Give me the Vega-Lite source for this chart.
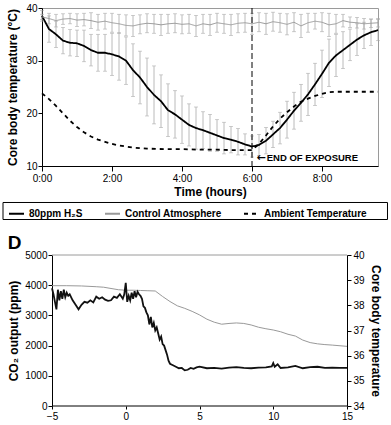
{
  "$schema": "https://vega.github.io/schema/vega-lite/v6.json",
  "padding": {"left": 2, "top": 2, "right": 3, "bottom": 2},
  "spacing": 13,
  "config": {
    "font": "Liberation Sans",
    "view": {"stroke": "#9a9a9a", "strokeWidth": 1},
    "axis": {"grid": false, "domainColor": "#000", "tickColor": "#000", "labelColor": "#000", "titleColor": "#000", "labelFontSize": 10, "titleFontSize": 12, "titleFontWeight": "bold", "labelFont": "Liberation Sans", "titleFont": "Liberation Sans", "domainWidth": 1, "tickWidth": 1}
  },
  "datasets": {
    "top": [
      {"s":"80ppm H₂S","t":0,"v":38.5,"lo":37.5,"hi":39.5},
      {"s":"80ppm H₂S","t":0.2,"v":36.0,"lo":33.5,"hi":38.5},
      {"s":"80ppm H₂S","t":0.4,"v":35.0,"lo":32.5,"hi":37.5},
      {"s":"80ppm H₂S","t":0.6,"v":33.8,"lo":31.3,"hi":36.3},
      {"s":"80ppm H₂S","t":0.8,"v":33.4,"lo":30.9,"hi":35.9},
      {"s":"80ppm H₂S","t":1.0,"v":33.3,"lo":30.8,"hi":35.8},
      {"s":"80ppm H₂S","t":1.2,"v":32.8,"lo":29.8,"hi":35.8},
      {"s":"80ppm H₂S","t":1.4,"v":32.0,"lo":29.0,"hi":35.0},
      {"s":"80ppm H₂S","t":1.6,"v":31.5,"lo":28.0,"hi":35.0},
      {"s":"80ppm H₂S","t":1.8,"v":31.5,"lo":28.0,"hi":35.0},
      {"s":"80ppm H₂S","t":2.0,"v":31.2,"lo":27.2,"hi":35.2},
      {"s":"80ppm H₂S","t":2.2,"v":30.8,"lo":26.3,"hi":35.3},
      {"s":"80ppm H₂S","t":2.4,"v":30.0,"lo":25.5,"hi":34.5},
      {"s":"80ppm H₂S","t":2.6,"v":28.2,"lo":23.2,"hi":33.2},
      {"s":"80ppm H₂S","t":2.8,"v":26.8,"lo":21.8,"hi":31.8},
      {"s":"80ppm H₂S","t":3.0,"v":25.0,"lo":19.5,"hi":30.5},
      {"s":"80ppm H₂S","t":3.2,"v":23.5,"lo":18.0,"hi":29.0},
      {"s":"80ppm H₂S","t":3.4,"v":22.3,"lo":17.3,"hi":27.3},
      {"s":"80ppm H₂S","t":3.6,"v":20.6,"lo":15.6,"hi":25.6},
      {"s":"80ppm H₂S","t":3.8,"v":19.8,"lo":15.3,"hi":24.3},
      {"s":"80ppm H₂S","t":4.0,"v":18.8,"lo":14.3,"hi":23.3},
      {"s":"80ppm H₂S","t":4.2,"v":17.8,"lo":13.8,"hi":21.8},
      {"s":"80ppm H₂S","t":4.4,"v":17.2,"lo":13.2,"hi":21.2},
      {"s":"80ppm H₂S","t":4.6,"v":16.8,"lo":13.3,"hi":20.3},
      {"s":"80ppm H₂S","t":4.8,"v":16.3,"lo":12.8,"hi":19.8},
      {"s":"80ppm H₂S","t":5.0,"v":15.8,"lo":12.8,"hi":18.8},
      {"s":"80ppm H₂S","t":5.2,"v":15.3,"lo":12.3,"hi":18.3},
      {"s":"80ppm H₂S","t":5.4,"v":15.0,"lo":12.5,"hi":17.5},
      {"s":"80ppm H₂S","t":5.6,"v":14.6,"lo":12.1,"hi":17.1},
      {"s":"80ppm H₂S","t":5.8,"v":14.1,"lo":12.1,"hi":16.1},
      {"s":"80ppm H₂S","t":6.0,"v":13.7,"lo":11.7,"hi":15.7},
      {"s":"80ppm H₂S","t":6.2,"v":14.0,"lo":12.0,"hi":16.0},
      {"s":"80ppm H₂S","t":6.4,"v":14.8,"lo":12.3,"hi":17.3},
      {"s":"80ppm H₂S","t":6.6,"v":16.0,"lo":13.5,"hi":18.5},
      {"s":"80ppm H₂S","t":6.8,"v":17.2,"lo":14.2,"hi":20.2},
      {"s":"80ppm H₂S","t":7.0,"v":18.8,"lo":15.3,"hi":22.3},
      {"s":"80ppm H₂S","t":7.2,"v":20.5,"lo":17.0,"hi":24.0},
      {"s":"80ppm H₂S","t":7.4,"v":22.0,"lo":18.5,"hi":25.5},
      {"s":"80ppm H₂S","t":7.6,"v":23.6,"lo":19.6,"hi":27.6},
      {"s":"80ppm H₂S","t":7.8,"v":25.5,"lo":21.5,"hi":29.5},
      {"s":"80ppm H₂S","t":8.0,"v":27.5,"lo":23.0,"hi":32.0},
      {"s":"80ppm H₂S","t":8.2,"v":29.6,"lo":25.1,"hi":34.1},
      {"s":"80ppm H₂S","t":8.4,"v":31.0,"lo":27.0,"hi":35.0},
      {"s":"80ppm H₂S","t":8.6,"v":32.0,"lo":28.5,"hi":35.5},
      {"s":"80ppm H₂S","t":8.8,"v":33.0,"lo":30.0,"hi":36.0},
      {"s":"80ppm H₂S","t":9.0,"v":34.0,"lo":31.0,"hi":37.0},
      {"s":"80ppm H₂S","t":9.2,"v":34.8,"lo":32.3,"hi":37.3},
      {"s":"80ppm H₂S","t":9.4,"v":35.4,"lo":32.9,"hi":37.9},
      {"s":"80ppm H₂S","t":9.6,"v":35.8,"lo":33.8,"hi":37.8},
      {"s":"Control Atmosphere","t":0,"v":38.3,"lo":37.8,"hi":38.8},
      {"s":"Control Atmosphere","t":0.2,"v":38.0,"lo":37.0,"hi":39.0},
      {"s":"Control Atmosphere","t":0.4,"v":37.6,"lo":36.4,"hi":38.8},
      {"s":"Control Atmosphere","t":0.6,"v":37.9,"lo":36.9,"hi":38.9},
      {"s":"Control Atmosphere","t":0.8,"v":38.0,"lo":37.0,"hi":39.0},
      {"s":"Control Atmosphere","t":1.0,"v":37.7,"lo":36.5,"hi":38.9},
      {"s":"Control Atmosphere","t":1.2,"v":37.8,"lo":36.6,"hi":39.0},
      {"s":"Control Atmosphere","t":1.4,"v":37.6,"lo":36.1,"hi":39.1},
      {"s":"Control Atmosphere","t":1.6,"v":37.3,"lo":35.8,"hi":38.8},
      {"s":"Control Atmosphere","t":1.8,"v":37.5,"lo":36.0,"hi":39.0},
      {"s":"Control Atmosphere","t":2.0,"v":37.2,"lo":35.4,"hi":39.0},
      {"s":"Control Atmosphere","t":2.2,"v":37.0,"lo":35.2,"hi":38.8},
      {"s":"Control Atmosphere","t":2.4,"v":36.7,"lo":34.7,"hi":38.7},
      {"s":"Control Atmosphere","t":2.6,"v":36.6,"lo":34.6,"hi":38.6},
      {"s":"Control Atmosphere","t":2.8,"v":36.9,"lo":35.1,"hi":38.7},
      {"s":"Control Atmosphere","t":3.0,"v":37.1,"lo":35.3,"hi":38.9},
      {"s":"Control Atmosphere","t":3.2,"v":37.0,"lo":35.2,"hi":38.8},
      {"s":"Control Atmosphere","t":3.4,"v":36.8,"lo":34.8,"hi":38.8},
      {"s":"Control Atmosphere","t":3.6,"v":37.0,"lo":35.2,"hi":38.8},
      {"s":"Control Atmosphere","t":3.8,"v":37.1,"lo":35.3,"hi":38.9},
      {"s":"Control Atmosphere","t":4.0,"v":36.9,"lo":35.1,"hi":38.7},
      {"s":"Control Atmosphere","t":4.2,"v":37.0,"lo":35.2,"hi":38.8},
      {"s":"Control Atmosphere","t":4.4,"v":36.6,"lo":34.6,"hi":38.6},
      {"s":"Control Atmosphere","t":4.6,"v":37.0,"lo":35.2,"hi":38.8},
      {"s":"Control Atmosphere","t":4.8,"v":36.8,"lo":34.8,"hi":38.8},
      {"s":"Control Atmosphere","t":5.0,"v":37.2,"lo":35.4,"hi":39.0},
      {"s":"Control Atmosphere","t":5.2,"v":37.0,"lo":35.2,"hi":38.8},
      {"s":"Control Atmosphere","t":5.4,"v":36.8,"lo":34.8,"hi":38.8},
      {"s":"Control Atmosphere","t":5.6,"v":37.1,"lo":35.3,"hi":38.9},
      {"s":"Control Atmosphere","t":5.8,"v":37.2,"lo":35.4,"hi":39.0},
      {"s":"Control Atmosphere","t":6.0,"v":37.0,"lo":35.0,"hi":39.0},
      {"s":"Control Atmosphere","t":6.2,"v":37.3,"lo":35.5,"hi":39.1},
      {"s":"Control Atmosphere","t":6.4,"v":37.0,"lo":35.0,"hi":39.0},
      {"s":"Control Atmosphere","t":6.6,"v":37.4,"lo":35.6,"hi":39.2},
      {"s":"Control Atmosphere","t":6.8,"v":37.2,"lo":35.4,"hi":39.0},
      {"s":"Control Atmosphere","t":7.0,"v":36.9,"lo":34.9,"hi":38.9},
      {"s":"Control Atmosphere","t":7.2,"v":37.3,"lo":35.5,"hi":39.1},
      {"s":"Control Atmosphere","t":7.4,"v":36.6,"lo":34.4,"hi":38.8},
      {"s":"Control Atmosphere","t":7.6,"v":37.2,"lo":35.4,"hi":39.0},
      {"s":"Control Atmosphere","t":7.8,"v":37.5,"lo":36.0,"hi":39.0},
      {"s":"Control Atmosphere","t":8.0,"v":37.3,"lo":35.5,"hi":39.1},
      {"s":"Control Atmosphere","t":8.2,"v":36.8,"lo":34.6,"hi":39.0},
      {"s":"Control Atmosphere","t":8.4,"v":37.0,"lo":35.2,"hi":38.8},
      {"s":"Control Atmosphere","t":8.6,"v":37.6,"lo":36.4,"hi":38.8},
      {"s":"Control Atmosphere","t":8.8,"v":37.3,"lo":36.3,"hi":38.3},
      {"s":"Control Atmosphere","t":9.0,"v":37.2,"lo":36.2,"hi":38.2},
      {"s":"Control Atmosphere","t":9.2,"v":37.0,"lo":36.0,"hi":38.0},
      {"s":"Control Atmosphere","t":9.4,"v":37.1,"lo":36.3,"hi":37.9},
      {"s":"Control Atmosphere","t":9.6,"v":37.2,"lo":36.4,"hi":38.0},
      {"s":"Ambient Temperature","t":0,"v":23.8},
      {"s":"Ambient Temperature","t":0.2,"v":22.7},
      {"s":"Ambient Temperature","t":0.4,"v":21.4},
      {"s":"Ambient Temperature","t":0.6,"v":20.0},
      {"s":"Ambient Temperature","t":0.8,"v":18.6},
      {"s":"Ambient Temperature","t":1.0,"v":17.4},
      {"s":"Ambient Temperature","t":1.2,"v":16.4},
      {"s":"Ambient Temperature","t":1.4,"v":15.6},
      {"s":"Ambient Temperature","t":1.6,"v":15.0},
      {"s":"Ambient Temperature","t":1.8,"v":14.6},
      {"s":"Ambient Temperature","t":2.0,"v":14.2},
      {"s":"Ambient Temperature","t":2.2,"v":13.9},
      {"s":"Ambient Temperature","t":2.4,"v":13.7},
      {"s":"Ambient Temperature","t":2.6,"v":13.5},
      {"s":"Ambient Temperature","t":2.8,"v":13.4},
      {"s":"Ambient Temperature","t":3.0,"v":13.3},
      {"s":"Ambient Temperature","t":3.5,"v":13.2},
      {"s":"Ambient Temperature","t":4.0,"v":13.2},
      {"s":"Ambient Temperature","t":4.5,"v":13.1},
      {"s":"Ambient Temperature","t":5.0,"v":13.1},
      {"s":"Ambient Temperature","t":5.5,"v":13.0},
      {"s":"Ambient Temperature","t":6.0,"v":13.0},
      {"s":"Ambient Temperature","t":6.2,"v":14.2},
      {"s":"Ambient Temperature","t":6.4,"v":15.8},
      {"s":"Ambient Temperature","t":6.6,"v":17.5},
      {"s":"Ambient Temperature","t":6.8,"v":19.0},
      {"s":"Ambient Temperature","t":7.0,"v":20.2},
      {"s":"Ambient Temperature","t":7.2,"v":21.3},
      {"s":"Ambient Temperature","t":7.4,"v":22.2},
      {"s":"Ambient Temperature","t":7.6,"v":22.8},
      {"s":"Ambient Temperature","t":7.8,"v":23.3},
      {"s":"Ambient Temperature","t":8.0,"v":23.7},
      {"s":"Ambient Temperature","t":8.2,"v":24.0},
      {"s":"Ambient Temperature","t":8.4,"v":24.1},
      {"s":"Ambient Temperature","t":9.0,"v":24.1},
      {"s":"Ambient Temperature","t":9.6,"v":24.1}
    ],
    "co2": [
      {"x":-5.0,"co2":3900},{"x":-4.9,"co2":3700},{"x":-4.8,"co2":3450},{"x":-4.7,"co2":3200},
      {"x":-4.6,"co2":3850},{"x":-4.5,"co2":3500},{"x":-4.4,"co2":3800},{"x":-4.3,"co2":3550},
      {"x":-4.2,"co2":3850},{"x":-4.1,"co2":3600},{"x":-4.0,"co2":3750},{"x":-3.9,"co2":3650},
      {"x":-3.8,"co2":3700},{"x":-3.6,"co2":3500},{"x":-3.4,"co2":3350},{"x":-3.2,"co2":3200},
      {"x":-3.0,"co2":3350},{"x":-2.8,"co2":3450},{"x":-2.6,"co2":3420},{"x":-2.4,"co2":3500},
      {"x":-2.2,"co2":3430},{"x":-2.0,"co2":3620},{"x":-1.8,"co2":3550},{"x":-1.6,"co2":3600},
      {"x":-1.4,"co2":3520},{"x":-1.2,"co2":3480},{"x":-1.0,"co2":3500},{"x":-0.8,"co2":3620},
      {"x":-0.6,"co2":3580},{"x":-0.4,"co2":3700},{"x":-0.2,"co2":3550},{"x":-0.1,"co2":3700},
      {"x":0.0,"co2":4080},{"x":0.1,"co2":3450},{"x":0.2,"co2":3650},{"x":0.3,"co2":3500},
      {"x":0.4,"co2":3750},{"x":0.5,"co2":3550},{"x":0.6,"co2":3800},{"x":0.7,"co2":3600},
      {"x":0.8,"co2":3780},{"x":0.9,"co2":3700},{"x":1.0,"co2":3650},{"x":1.1,"co2":3550},
      {"x":1.2,"co2":3300},{"x":1.3,"co2":3250},{"x":1.4,"co2":3100},{"x":1.5,"co2":3000},
      {"x":1.6,"co2":2700},{"x":1.7,"co2":2950},{"x":1.8,"co2":2600},{"x":1.9,"co2":2750},
      {"x":2.0,"co2":2500},{"x":2.1,"co2":2600},{"x":2.2,"co2":2400},{"x":2.3,"co2":2200},
      {"x":2.4,"co2":2300},{"x":2.5,"co2":2050},{"x":2.6,"co2":2000},{"x":2.7,"co2":1850},
      {"x":2.8,"co2":1700},{"x":2.9,"co2":1500},{"x":3.0,"co2":1400},{"x":3.2,"co2":1350},
      {"x":3.4,"co2":1300},{"x":3.6,"co2":1250},{"x":3.8,"co2":1260},{"x":4.0,"co2":1180},
      {"x":4.2,"co2":1200},{"x":4.4,"co2":1260},{"x":4.6,"co2":1230},{"x":4.8,"co2":1280},
      {"x":5.0,"co2":1300},{"x":5.5,"co2":1250},{"x":6.0,"co2":1260},{"x":6.5,"co2":1240},
      {"x":7.0,"co2":1270},{"x":7.5,"co2":1290},{"x":8.0,"co2":1260},{"x":8.5,"co2":1250},
      {"x":9.0,"co2":1270},{"x":9.5,"co2":1280},{"x":9.9,"co2":1310},{"x":10.0,"co2":1420},
      {"x":10.1,"co2":1300},{"x":10.3,"co2":1380},{"x":10.5,"co2":1260},{"x":11.0,"co2":1280},
      {"x":11.5,"co2":1330},{"x":12.0,"co2":1250},{"x":12.5,"co2":1290},{"x":13.0,"co2":1300},
      {"x":13.5,"co2":1260},{"x":14.0,"co2":1270},{"x":14.5,"co2":1260},{"x":15.0,"co2":1260}
    ],
    "temp": [
      {"x":-5,"temp":38.78},{"x":-4,"temp":38.78},{"x":-3,"temp":38.77},{"x":-2,"temp":38.74},
      {"x":-1.5,"temp":38.72},{"x":-1,"temp":38.67},{"x":-0.5,"temp":38.62},{"x":0,"temp":38.6},
      {"x":0.5,"temp":38.6},{"x":1,"temp":38.59},{"x":1.5,"temp":38.58},{"x":2,"temp":38.57},
      {"x":2.5,"temp":38.35},{"x":3,"temp":38.15},{"x":3.5,"temp":37.98},{"x":4,"temp":37.88},
      {"x":4.5,"temp":37.76},{"x":5,"temp":37.62},{"x":5.5,"temp":37.45},{"x":6,"temp":37.33},
      {"x":6.5,"temp":37.25},{"x":7,"temp":37.28},{"x":7.5,"temp":37.3},{"x":8,"temp":37.28},
      {"x":8.5,"temp":37.22},{"x":9,"temp":37.13},{"x":9.5,"temp":37.07},{"x":10,"temp":37.02},
      {"x":10.5,"temp":36.95},{"x":11,"temp":36.85},{"x":11.5,"temp":36.78},{"x":12,"temp":36.62},
      {"x":12.5,"temp":36.52},{"x":13,"temp":36.47},{"x":13.5,"temp":36.44},{"x":14,"temp":36.42},
      {"x":15,"temp":36.37}
    ],
    "frame": [
      {"part":"base","x":-5,"x2":15,"y":0},
      {"part":"top","x":-5,"x2":15,"y":5000}
    ],
    "legendbox": [
      {"t1": -1.114, "t2": 9.871, "v1": 3.07, "v2": -0.16}
    ]
  },
  "vconcat": [
    {
      "width": 336,
      "height": 158,
      "data": {"name": "top"},
      "encoding": {
        "x": {"field": "t", "type": "quantitative", "scale": {"domain": [0, 9.6], "nice": false, "zero": false},
          "axis": {"values": [0, 2, 4, 6, 8], "labelExpr": "datum.value + ':00'", "title": "Time (hours)", "tickSize": 5, "labelPadding": 2, "titlePadding": 3, "labelFlush": false}}
      },
      "layer": [
        {
          "transform": [{"filter": "isValid(datum.lo)"}],
          "mark": {"type": "errorbar", "ticks": {"size": 4}, "color": "#a8a8a8", "thickness": 0.8},
          "encoding": {
            "y": {"field": "lo", "type": "quantitative", "scale": {"domain": [10, 40], "nice": false, "zero": false},
              "axis": {"values": [10, 15, 20, 25, 30, 35, 40], "title": "Core body temperature (°C)", "tickSize": 4, "labelPadding": 1, "titlePadding": 6}},
            "y2": {"field": "hi"}
          }
        },
        {
          "mark": {"type": "line"},
          "encoding": {
            "y": {"field": "v", "type": "quantitative"},
            "color": {"field": "s", "type": "nominal", "sort": null,
              "scale": {"domain": ["80ppm H₂S", "Control Atmosphere", "Ambient Temperature"], "range": ["#000000", "#999999", "#000000"]},
              "legend": {"title": null, "orient": "none", "legendX": -34, "legendY": 197, "direction": "horizontal", "padding": 0, "columnPadding": 18, "symbolType": "stroke", "symbolSize": 225, "symbolStrokeWidth": 2, "labelFont": "Liberation Sans", "labelFontSize": 10, "labelFontWeight": "bold", "labelColor": "#000", "labelOffset": 4}},
            "strokeDash": {"field": "s", "type": "nominal", "sort": null,
              "scale": {"domain": ["80ppm H₂S", "Control Atmosphere", "Ambient Temperature"], "range": [[1, 0], [1, 0], [4, 4]]},
              "legend": {"title": null, "orient": "none", "legendX": -34, "legendY": 197, "direction": "horizontal", "padding": 0, "columnPadding": 18, "symbolType": "stroke", "symbolSize": 225, "symbolStrokeWidth": 2, "labelFont": "Liberation Sans", "labelFontSize": 10, "labelFontWeight": "bold", "labelColor": "#000", "labelOffset": 4}},
            "strokeWidth": {"condition": {"test": "datum.s == 'Control Atmosphere'", "value": 1}, "value": 1.8}
          }
        },
        {
          "data": {"name": "legendbox"},
          "mark": {"type": "rect", "fill": null, "fillOpacity": 0, "stroke": "#000000", "strokeOpacity": 1, "strokeWidth": 1},
          "encoding": {
            "x": {"field": "t1", "type": "quantitative"},
            "x2": {"field": "t2"},
            "y": {"field": "v1", "type": "quantitative"},
            "y2": {"field": "v2"}
          }
        },
        {
          "data": {"values": [{"t": 6}]},
          "mark": {"type": "rule", "strokeDash": [6, 3], "color": "#000", "strokeWidth": 1},
          "encoding": {"x": {"field": "t", "type": "quantitative"}}
        },
        {
          "data": {"values": [{"t": 6.13, "v": 11.6, "label": "←"}]},
          "mark": {"type": "text", "align": "left", "baseline": "middle", "fontWeight": "bold", "fontSize": 11, "font": "DejaVu Sans", "color": "#000"},
          "encoding": {
            "x": {"field": "t", "type": "quantitative"},
            "y": {"field": "v", "type": "quantitative"},
            "text": {"field": "label"}
          }
        },
        {
          "data": {"values": [{"t": 6.42, "v": 11.6, "label": "END OF EXPOSURE"}]},
          "mark": {"type": "text", "align": "left", "baseline": "middle", "fontWeight": "bold", "fontSize": 9.5, "color": "#000"},
          "encoding": {
            "x": {"field": "t", "type": "quantitative"},
            "y": {"field": "v", "type": "quantitative"},
            "text": {"field": "label"}
          }
        }
      ]
    },
    {
      "width": 305,
      "height": 151,
      "view": {"stroke": null},
      "title": {"text": "D", "anchor": "start", "frame": "bounds", "fontSize": 19, "fontWeight": "bold", "dx": 0, "offset": -3, "color": "#000"},
      "layer": [
        {
          "data": {"name": "frame"},
          "transform": [{"filter": "datum.part == 'top'"}],
          "mark": {"type": "rule", "color": "#9a9a9a", "strokeWidth": 1},
          "encoding": {
            "x": {"field": "x", "type": "quantitative", "scale": {"domain": [-5.678, 15], "nice": false, "zero": false},
              "axis": {"values": [-5, 0, 5, 10, 15], "title": null, "domain": false, "tickSize": 3, "labelPadding": 2, "labelFlush": false}},
            "x2": {"field": "x2"},
            "y": {"field": "y", "type": "quantitative", "scale": {"domain": [0, 5000], "nice": false}, "axis": null}
          }
        },
        {
          "data": {"name": "frame"},
          "transform": [{"filter": "datum.part == 'base'"}],
          "mark": {"type": "rule", "color": "#000", "strokeWidth": 1},
          "encoding": {
            "x": {"field": "x", "type": "quantitative"},
            "x2": {"field": "x2"},
            "y": {"field": "y", "type": "quantitative", "scale": {"domain": [0, 5000], "nice": false}, "axis": null}
          }
        },
        {
          "data": {"name": "temp"},
          "mark": {"type": "line", "color": "#999999", "strokeWidth": 1},
          "encoding": {
            "x": {"field": "x", "type": "quantitative"},
            "y": {"field": "temp", "type": "quantitative", "scale": {"domain": [34, 40], "nice": false, "zero": false},
              "axis": {"orient": "right", "values": [34, 35, 36, 37, 38, 39, 40], "title": "Core body temperature", "tickSize": 4, "labelPadding": 2, "titlePadding": 4}}
          }
        },
        {
          "data": {"name": "co2"},
          "mark": {"type": "line", "color": "#111111", "strokeWidth": 1.8},
          "encoding": {
            "x": {"field": "x", "type": "quantitative"},
            "y": {"field": "co2", "type": "quantitative", "scale": {"domain": [0, 5000], "nice": false},
              "axis": {"orient": "left", "offset": -10, "format": "d", "values": [0, 1000, 2000, 3000, 4000, 5000], "title": "CO₂ output (ppm)", "tickSize": 4, "labelPadding": 1, "titlePadding": 4}}
          }
        }
      ],
      "resolve": {"scale": {"y": "independent"}}
    }
  ]
}
